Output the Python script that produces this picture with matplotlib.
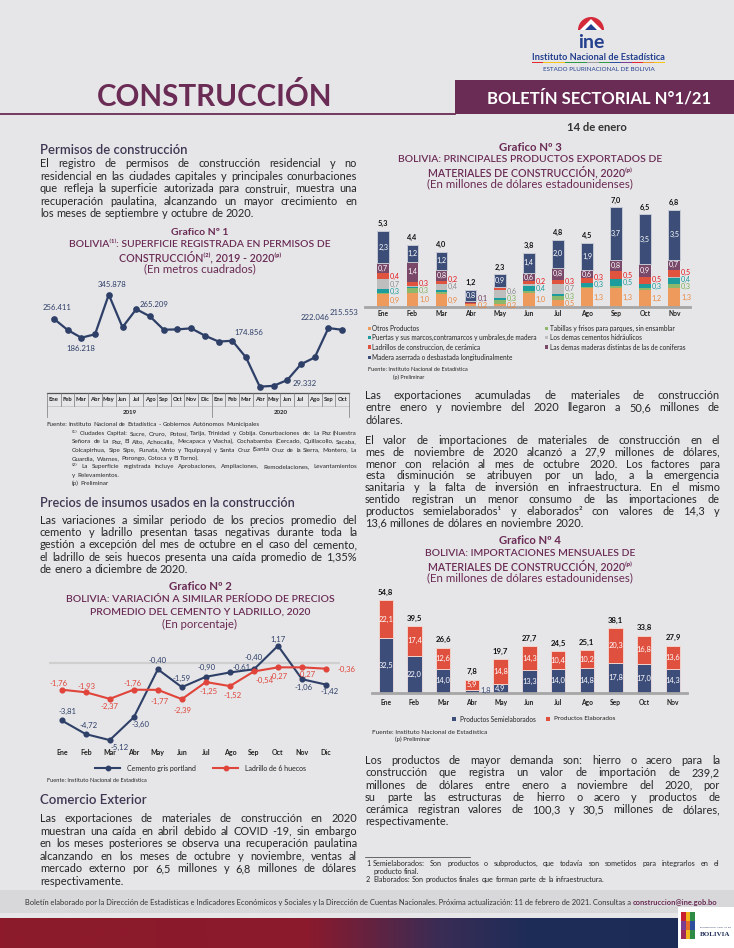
#!/usr/bin/python3
'''
Boletin sectorial de construccion N 1/21 (INE Bolivia), one page.
Four charts and the text blocks, drawn on a pixel-sized page axes.
Output: out.png (734 x 948 px)
'''
import numpy as np
import matplotlib
matplotlib.use('Agg')
from matplotlib import pyplot as plt
from matplotlib import font_manager
from matplotlib.patches import Rectangle, Wedge, Polygon
from matplotlib.colors import LinearSegmentedColormap

#--------------------------------------------
# Data
meses = ['Ene', 'Feb', 'Mar', 'Abr', 'May', 'Jun', 'Jul', 'Ago', 'Sep', 'Oct', 'Nov', 'Dic']

# Grafico 1: superficie registrada (m2)
superficie_2019 = [256411, 215000, 186218, 199000, 345878, 225000, 292000, 265209, 216000, 217000, 221000, 194000]
superficie_2020 = [172000, 174856, 113000, 5000, 8000, 29332, 88000, 113000, 222046, 215553]
superficie_etiquetadas = [0, 2, 4, 7, 13, 17, 20, 21]

# Grafico 2: variacion de precios (%)
cemento = [-3.81, -4.72, -5.12, -3.60, -0.40, -1.59, -0.90, -0.61, -0.40, 1.17, -1.06, -1.42]
ladrillo = [-1.76, -1.93, -2.37, -1.76, -1.77, -2.39, -1.25, -1.52, -0.54, -0.27, -0.27, -0.36]

# Grafico 3: exportaciones (millones $us), Ene - Nov 2020
meses_2020 = meses[:11]
exp_otros = [0.9, 1.0, 0.94, 0.2, 0.2, 1.0, 0.5, 1.3, 1.3, 1.2, 1.3]
exp_tablillas = [0.05, 0.3, 0.14, 0.03, 0.3, 0.1, 0.3, 0.1, 0.14, 0.1, 0.3]
exp_puertas = [0.3, 0.08, 0.14, 0.0, 0.1, 0.4, 0.12, 0.3, 0.5, 0.3, 0.4]
exp_cementos = [0.7, 0.08, 0.42, 0.0, 0.6, 0.1, 0.7, 0.0, 0.05, 0.0, 0.1]
exp_ladrillos = [0.4, 0.3, 0.21, 0.02, 0.1, 0.2, 0.3, 0.3, 0.5, 0.5, 0.5]
exp_maderas = [0.7, 1.4, 0.77, 0.15, 0.1, 0.6, 0.8, 0.6, 0.8, 0.9, 0.7]
exp_aserrada = [2.3, 1.2, 1.24, 0.8, 0.9, 1.4, 2.0, 1.9, 3.7, 3.5, 3.5]
exp_total = [5.3, 4.4, 4.0, 1.2, 2.3, 3.8, 4.8, 4.5, 7.0, 6.5, 6.8]
exp_nombres = ['Otros Productos',
               'Tabillas y frisos para parques, sin ensamblar',
               'Puertas y sus marcos,contramarcos y umbrales,de madera',
               'Los demas cementos hidráulicos',
               'Ladrillos de construccion, de cerámica',
               'Las demas maderas distintas de las de coniferas',
               'Madera aserrada o desbastada longitudinalmente']

# Grafico 4: importaciones (millones $us)
imp_semi = [32.5, 22.0, 14.0, 1.8, 4.9, 13.3, 14.0, 14.8, 17.8, 17.0, 14.3]
imp_elab = [22.1, 17.4, 12.6, 5.9, 14.8, 14.3, 10.4, 10.2, 20.3, 16.8, 13.6]
imp_total = [54.8, 39.5, 26.6, 7.8, 19.7, 27.7, 24.5, 25.1, 38.1, 33.8, 27.9]

#--------------------------------------------
# Style
BG = '#E6E6E8'
PURPLE = '#6A2B55'
HEAD = '#3F3652'
TXT = '#262626'
NAVY = '#2E3F68'
RED = '#E0443A'
C_EXP = ['#EE9A5C', '#8DB86B', '#1C9C9C', '#BEBEBE', '#E0533F', '#7A4868', '#3C4E78']
C_EXP_TXT = ['#E8873F', '#7DAE55', '#1A9A9A', '#8A8A8A', '#E3151B', '#6B3A5E', '#3C4E78']
C_IMP = ['#3D4D7A', '#E0503F']

names = {f.name for f in font_manager.fontManager.ttflist}
BODY = 'Lato' if 'Lato' in names else 'DejaVu Sans'
NARROW = 'Liberation Sans Narrow' if 'Liberation Sans Narrow' in names else BODY
plt.rcParams['font.family'] = [BODY, 'DejaVu Sans']
FB = [BODY, 'DejaVu Sans']
FN = [NARROW, 'DejaVu Sans']
SUPERS = '⁽⁾ᵖ'

W, H = 734, 948
fig = plt.figure(figsize=(W / 100, H / 100), dpi=100)
fig.patch.set_facecolor(BG)
page = fig.add_axes([0, 0, 1, 1])
page.set_xlim(0, W)
page.set_ylim(H, 0)
page.axis('off')
R = fig.canvas.get_renderer()


def text_w(t):
    return t.get_window_extent(renderer=R).width


def fit_text(x, y, s, width, size, ha='left', **kw):
    # text whose width matches the reference, never above size
    t = page.text(x, y, s, fontsize=size, ha=ha, va='center', **kw)
    w = text_w(t)
    t.set_fontsize(min(size, size * width / w))
    return t


def px_axes(x0, y0, x1, y1):
    ax = fig.add_axes([x0 / W, 1 - y1 / H, (x1 - x0) / W, (y1 - y0) / H])
    ax.patch.set_alpha(0)
    return ax


def need_size(lines, width, size, family):
    widest = 0
    for l in lines:
        t = page.text(0, 0, l, fontsize=size, family=family)
        widest = max(widest, text_w(t))
        t.remove()
    return min(size, size * width / widest * 0.97)


def paragraph(lines, x0, x1, y0, dy, size, color=TXT, family=BODY):
    # one text per word, justified, on a common baseline
    lift = 0.36 * size * 100 / 72
    t = page.text(0, 0, 'a a', fontsize=size, family=family)
    space = text_w(t)
    t.set_text('aa')
    space -= text_w(t)
    t.remove()
    for i, line in enumerate(lines):
        y = y0 + i * dy + lift
        words = line.split()
        ts = []
        for w in words:
            fam = ['DejaVu Sans'] if any(c in SUPERS for c in w) else family
            ts.append(page.text(x0, y, w, fontsize=size, color=color, family=fam, va='baseline'))
        ws = [text_w(t) for t in ts]
        gap = space
        if i < len(lines) - 1 and len(words) > 1:
            gap = (x1 - x0 - sum(ws)) / (len(words) - 1)
        x = x0
        for t, w in zip(ts, ws):
            t.set_x(x)
            x += w + gap


def chart_title(cx, y0, lines, widths):
    weights = ['bold', 'semibold', 'semibold', 'normal']
    for k, (s, w) in enumerate(zip(lines, widths)):
        fit_text(cx, y0 + k * 12.4, s, w, 9.5, ha='center', color=PURPLE,
                 fontweight=weights[k], family=FN)


def style_x(ax, labels, size, pad):
    ax.set_xticks(range(len(labels)))
    ax.set_xticklabels(labels, fontsize=size, fontweight='bold', family=FN, color='#222222')
    ax.tick_params(axis='x', length=0, pad=pad)
    ax.set_yticks([])
    for s in ax.spines.values():
        s.set_visible(False)


coma = lambda v, d=1: f'{v:.{d}f}'.replace('.', ',')

#--------------------------------------------
# Header
page.add_patch(Rectangle((455, 80), W - 455, 34, color=PURPLE, lw=0))
page.plot([0, 455], [114, 114], color=PURPLE, lw=1.3)
fit_text(215, 96, 'CONSTRUCCIÓN', 236, 24, ha='center', color=PURPLE, fontweight='bold', family=FB)
fit_text(599, 98, 'BOLETÍN SECTORIAL N°1/21', 224, 12, ha='center', color='white', fontweight='bold', family=FB)
fit_text(597, 127, '14 de enero', 60, 9, ha='center', color='#333333', fontweight='bold', family=FB)
# INE logo
page.add_patch(Wedge((591, 30), 13, 180, 360, color='#D42A3A', lw=0))
page.add_patch(Polygon([(580, 30), (591, 19), (602, 30)], color='white', lw=0))
page.add_patch(Polygon([(585, 30), (591, 24), (597, 30)], color='#24408E', lw=0))
fit_text(591, 42, 'ine', 30, 14, ha='center', color='#24408E', fontweight='bold', family=FB)
fit_text(598.5, 57, 'Instituto Nacional de Estadística', 133, 8, ha='center', color='#24408E',
         fontweight='bold', family=FN)
stripe = ['#E3262F', '#F6C417', '#F6C417', '#2E9A48', '#2E9A48', '#9C9C9C', '#2E9A48', '#2E4E9E',
          '#7A3D91', '#E3262F', '#F0962A', '#F6C417']
for k, c in enumerate(stripe):
    page.add_patch(Rectangle((532 + k * 133 / len(stripe), 61.5), 133 / len(stripe), 1.8, color=c, lw=0))
fit_text(598.5, 69, 'ESTADO PLURINACIONAL DE BOLIVIA', 128, 4.5, ha='center', color='#24408E', family=FB)

#--------------------------------------------
# Body text (one size for every paragraph)
p1 = ['El registro de permisos de construcción residencial y no',
      'residencial en las ciudades capitales y principales conurbaciones',
      'que refleja la superficie autorizada para construir, muestra  una',
      'recuperación paulatina, alcanzando un mayor crecimiento en',
      'los meses de septiembre y octubre de 2020.']
p2 = ['Las variaciones a similar periodo de los precios promedio del',
      'cemento y ladrillo presentan tasas negativas durante toda la',
      'gestión a excepción del mes de octubre en el caso del cemento,',
      'el ladrillo de seis huecos  presenta una caída promedio de 1,35%',
      'de enero a diciembre de 2020.']
p3 = ['Las exportaciones de materiales de construcción en 2020',
      'muestran una caída en abril debido al COVID -19,  sin embargo',
      'en los meses posteriores se observa una recuperación paulatina',
      'alcanzando en los meses de octubre y noviembre, ventas al',
      'mercado externo por 6,5 millones y 6,8 millones de dólares',
      'respectivamente.']
pa = ['Las exportaciones acumuladas de materiales de construcción',
      'entre enero y noviembre del 2020 llegaron a 50,6 millones de',
      'dólares.']
pb = ['El valor de importaciones de materiales de construcción en el',
      'mes de noviembre de 2020 alcanzó a 27,9 millones de dólares,',
      'menor con relación al mes de octubre 2020. Los factores para',
      'esta disminución se atribuyen por un lado, a la emergencia',
      'sanitaria y la falta de inversión en infraestructura. En el mismo',
      'sentido registran un menor consumo de las importaciones de',
      'productos semielaborados¹ y elaborados² con valores de 14,3 y',
      '13,6 millones de dólares en noviembre 2020.']
pc = ['Los productos de mayor demanda son: hierro o acero para la',
      'construcción que registra un valor de importación de 239,2',
      'millones de dólares entre enero a noviembre del 2020, por',
      'su parte las estructuras de hierro o acero y productos de',
      'cerámica registran valores de 100,3 y 30,5 millones de dólares,',
      'respectivamente.']
size = min(need_size(p, 317, 8.6, BODY) for p in (p1, p2, p3))
size = min(size, min(need_size(p, 355, 8.6, BODY) for p in (pa, pb, pc)))
paragraph(p1, 40, 357, 163, 12.6, size)
paragraph(p2, 40, 357, 520, 12.2, size)
paragraph(p3, 40, 357, 818, 12.6, size)
paragraph(pa, 365, 720, 395, 12.4, size)
paragraph(pb, 365, 720, 440, 11.8, size)
paragraph(pc, 365, 720, 760, 12.3, size)

fit_text(40, 150, 'Permisos de construcción', 147, 11, color=HEAD, fontweight='semibold', family=FB)
fit_text(40, 503, 'Precios de insumos usados en la construcción', 252, 11, color=HEAD,
         fontweight='semibold', family=FB)
fit_text(40, 800, 'Comercio Exterior', 107, 11, color=HEAD, fontweight='semibold', family=FB)

#--------------------------------------------
# Grafico 1
chart_title(200, 232, ['Grafico Nº 1', 'BOLIVIA⁽¹⁾: SUPERFICIE REGISTRADA EN PERMISOS DE',
                       'CONSTRUCCIÓN⁽²⁾, 2019 - 2020⁽ᵖ⁾', '(En metros cuadrados)'], [58, 265, 163, 112])
sup = superficie_2019 + superficie_2020
etiquetas1 = meses + meses[:10]
ax1 = px_axes(47, 270, 349, 393)
ax1.plot(range(len(sup)), sup, color=NAVY, lw=1.6, marker='o', ms=3.8, zorder=3)
ax1.set_xlim(-0.5, len(sup) - 0.5)
ax1.set_ylim(-18500, 437000)
style_x(ax1, etiquetas1, 4.2, 3.2)
off1 = {0: (3, -11), 2: (0, 10.5), 4: (3, -10.5), 7: (4, -12), 13: (17, -8), 17: (17, 3),
        20: (-13, -11), 21: (2, -17)}
for i in superficie_etiquetadas:
    dx, dy = off1[i]
    ax1.annotate(f'{sup[i]:,}'.replace(',', '.'), (i, sup[i]), xytext=(dx, -dy), textcoords='offset pixels',
                 ha='center', va='center', fontsize=5.6, color=NAVY, family=FB)
# two level table under the axis
xb = [ax1.transData.transform((i - 0.5, 0))[0] for i in range(len(sup) + 1)]
page.plot([xb[0], xb[-1]], [393, 393], color='#555555', lw=0.9)
page.plot([xb[0], xb[-1]], [405.5, 405.5], color='#BBBBBB', lw=0.5)
for i, xv in enumerate(xb):
    full = i in (0, 12, len(sup))
    page.plot([xv, xv], [393, 417 if full else 405.5], color='#777777', lw=0.5)
for s, a, b in (('2019', 0, 12), ('2020', 12, len(sup))):
    page.text((xb[a] + xb[b]) / 2, 412, s, fontsize=4.4, fontweight='bold', ha='center', va='center',
              family=FN, color='#222222')

notas1 = ['⁽¹⁾ Ciudades Capital: Sucre, Oruro, Potosí, Tarija, Trinidad y Cobija. Conurbaciones de: La Paz (Nuestra',
          'Señora de La Paz, El Alto, Achocalla, Mecapaca y Viacha), Cochabamba (Cercado, Quillacollo, Sacaba,',
          'Colcapirhua, Sipe Sipe, Punata, Vinto y Tiquipaya) y Santa Cruz (Santa Cruz de la Sierra, Montero, La',
          'Guardia, Warnes, Porongo, Cotoca y El Torno).']
notas2 = ['⁽²⁾ La Superficie registrada incluye Aprobaciones, Ampliaciones, Remodelaciones, Levantamientos',
          'y Relevamientos.']
nsize = need_size(notas1 + notas2, 285, 5.2, FN)
paragraph(['Fuente: Instituto Nacional de Estadística  - Gobiernos Autónomos Municipales'], 46, 357, 424,
          8.4, nsize, family=NARROW)
paragraph(notas1, 72, 357, 432.5, 8.4, nsize, family=NARROW)
paragraph(notas2, 72, 357, 466, 8.4, nsize, family=NARROW)
paragraph(['(p) Preliminar'], 72, 357, 483, 8.4, nsize, family=NARROW)

#--------------------------------------------
# Grafico 2
chart_title(200, 587, ['Grafico Nº 2', 'BOLIVIA: VARIACIÓN A SIMILAR PERÍODO DE PRECIOS',
                       'PROMEDIO DEL CEMENTO Y LADRILLO, 2020', '(En porcentaje)'], [63, 269, 223, 75])
ax2 = px_axes(49, 635, 340, 745)
ax2.axhline(0, color='#CFCFCF', lw=1.6, zorder=1)
ax2.plot(range(12), cemento, color=NAVY, lw=1.5, marker='o', ms=3.4, zorder=3)
ax2.plot(range(12), ladrillo, color=RED, lw=1.5, marker='o', ms=3.4, zorder=3)
ax2.set_xlim(-0.528, 11.58)
ax2.set_ylim(-5.447, 1.887)
style_x(ax2, meses, 5.0, 3.0)
off_c = [(6, -9), (3, -9), (10, 7), (7, 7), (0, -9), (0, -9), (1, -9), (12, -5), (0, -12), (0, -6), (2, 8), (4, 7)]
off_l = [(-3, -6), (1, -6), (0, 8), (-1, -6), (2, 12), (1, 11), (3, 9), (3, 9), (11, 9), (1, 9), (5, 7), (20, 1)]
for serie, offs, col in ((cemento, off_c, NAVY), (ladrillo, off_l, RED)):
    for i, v in enumerate(serie):
        ax2.annotate(coma(v, 2), (i, v), xytext=(offs[i][0], -offs[i][1]), textcoords='offset pixels',
                     ha='center', va='center', fontsize=5.6, color=col, family=FB)
for x0, col, s, w in ((95, NAVY, 'Cemento gris portland', 69), (213, RED, 'Ladrillo de 6 huecos', 62)):
    page.plot([x0, x0 + 25], [768.3, 768.3], color=col, lw=1.5)
    page.plot([x0 + 12.5], [768.3], 'o', color=col, ms=3.2)
    fit_text(x0 + 32, 768.3, s, w, 6, color='#222222', family=FN)
fit_text(47, 781, 'Fuente: Instituto Nacional de Estadística', 100, 5, color=TXT, family=FN)

#--------------------------------------------
# Grafico 3
chart_title(530, 147, ['Grafico Nº 3', 'BOLIVIA: PRINCIPALES PRODUCTOS EXPORTADOS DE',
                       'MATERIALES DE CONSTRUCCIÓN, 2020⁽ᵖ⁾', '(En millones de dólares estadounidenses)'],
            [63, 267, 205, 208])
ax3 = px_axes(365, 195, 690, 307)
series3 = [exp_otros, exp_tablillas, exp_puertas, exp_cementos, exp_ladrillos, exp_maderas, exp_aserrada]
x3 = np.arange(len(meses_2020))
base = np.zeros(len(x3))
centros = []
for k, vals in enumerate(series3):
    ax3.bar(x3, vals, 0.40, bottom=base, color=C_EXP[k],
            edgecolor='#C5C9D4' if k == 6 else 'none', lw=0.7 if k == 6 else 0)
    centros.append(base + np.array(vals) / 2)
    base = base + np.array(vals)
ax3.set_xlim(-0.629, 10.54)
ax3.set_ylim(0, 7.84)
style_x(ax3, meses_2020, 4.8, 2.2)
ax3.spines['bottom'].set_visible(True)
ax3.spines['bottom'].set_color('#A6A6A6')
ax3.spines['bottom'].set_linewidth(2)
for i in x3:
    prev = -1
    for k, vals in enumerate(series3):
        v = vals[i]
        if k >= 5 and v >= 0.5:
            ax3.text(i, centros[k][i], coma(v), ha='center', va='center', fontsize=5.2, color='white', family=FB)
        elif v >= 0.15:
            y = max(centros[k][i], prev + 0.5)
            prev = y
            ax3.text(i + 0.23, y, coma(v), ha='left', va='center', fontsize=5.2, color=C_EXP_TXT[k], family=FB)
    ax3.annotate(coma(exp_total[i]), (i, base[i]), xytext=(0, 7), textcoords='offset pixels', ha='center',
                 va='center', fontsize=5.3, fontweight='bold', color='#111111', family=FB)
# legend, two columns
filas = [(0, 368, 328.3), (1, 545, 328.3), (2, 368, 337.7), (3, 545, 337.7), (4, 368, 347), (5, 545, 347),
         (6, 368, 357.7)]
t = page.text(0, 0, exp_nombres[2], fontsize=6, family=FN)
lsize = 6 * 166 / text_w(t)
t.remove()
for k, xl, yl in filas:
    page.add_patch(Rectangle((xl, yl - 1.8), 3.4, 3.4, color=C_EXP[k], lw=0))
    page.text(xl + 4.5, yl, exp_nombres[k], fontsize=lsize, family=FN, va='center', color='#222222')
fit_text(368, 369.5, 'Fuente: Instituto Nacional de Estadística', 100, 5, color=TXT, family=FN)
fit_text(393, 377, '(p) Preliminar', 32, 5, color=TXT, family=FN)

#--------------------------------------------
# Grafico 4
chart_title(530, 541, ['Grafico Nº 4', 'BOLIVIA: IMPORTACIONES MENSUALES DE',
                       'MATERIALES DE CONSTRUCCIÓN, 2020⁽ᵖ⁾', '(En millones de dólares estadounidenses)'],
            [63, 212, 206, 207])
ax4 = px_axes(372, 590, 687, 692.7)
x4 = np.arange(len(meses_2020))
ax4.bar(x4, imp_semi, 0.5, color=C_IMP[0], edgecolor='#E3D6DA', lw=0.7)
ax4.bar(x4, imp_elab, 0.5, bottom=imp_semi, color=C_IMP[1], edgecolor='#F1D2CB', lw=0.7)
ax4.set_xlim(-0.477, 10.487)
ax4.set_ylim(0, 60.8)
style_x(ax4, meses_2020, 4.8, 4.6)
ax4.spines['bottom'].set_visible(True)
ax4.spines['bottom'].set_color('#A6A6A6')
ax4.spines['bottom'].set_linewidth(2)
for i in x4:
    s, e = imp_semi[i], imp_elab[i]
    if s < 3:
        ax4.text(i + 0.3, s / 2 + 0.4, coma(s), ha='left', va='center', fontsize=5.4, color=C_IMP[0], family=FB)
    else:
        ax4.text(i, s / 2, coma(s), ha='center', va='center', fontsize=5.4, color='white', family=FB)
    ax4.text(i, s + e / 2, coma(e), ha='center', va='center', fontsize=5.4, color='white', family=FB)
    ax4.annotate(coma(imp_total[i]), (i, s + e), xytext=(0, 8), textcoords='offset pixels', ha='center',
                 va='center', fontsize=5.6, fontweight='bold', color='#111111', family=FB)
for x0, col, s, w in ((452, C_IMP[0], 'Productos Semielaborados', 77), (546, C_IMP[1], 'Productos Elaborados', 62)):
    page.add_patch(Rectangle((x0, 717), 4, 4, color=col, lw=0))
    fit_text(x0 + 8, 719, s, w, 6, color='#222222', family=FN)
fit_text(372, 732.3, 'Fuente: Instituto Nacional de Estadística', 115, 5.5, color=TXT, family=FN)
fit_text(395, 739.5, '(p) Preliminar', 36, 5.5, color=TXT, family=FN)

#--------------------------------------------
# Footnotes of the right column
page.plot([365, 470], [857, 857], color='#333333', lw=0.5)
fs = need_size(['Semielaborados: Son productos o subproductos, que todavía son sometidos para integrarlos en el'],
               346, 5.2, NARROW)
for y, s in ((863.5, '1'), (879, '2')):
    page.text(366, y, s, fontsize=fs, family=NARROW, va='center', color=TXT)
paragraph(['Semielaborados: Son productos o subproductos, que todavía son sometidos para integrarlos en el',
           'producto final.'], 373, 719, 863.5, 7.5, fs, family=NARROW)
paragraph(['Elaborados: Son productos finales que forman parte de la infraestructura.'], 373, 719, 879, 7.5, fs,
          family=NARROW)

#--------------------------------------------
# Footer
page.add_patch(Rectangle((0, 890), W, 23, color='#D8D8DA', lw=0))
pie = ('Boletín elaborado por la Dirección de Estadísticas e Indicadores Económicos y Sociales y la Dirección '
       'de Cuentas Nacionales. Próxima actualización: 11 de febrero de 2021. Consultas a ')
t = fit_text(25, 902, pie, 612, 6, color='#333333', family=FN)
page.text(25 + text_w(t), 902, 'construccion@ine.gob.bo', fontsize=t.get_fontsize(), fontweight='bold',
          color=PURPLE, family=FN, va='center')
band = LinearSegmentedColormap.from_list('band', [(0, '#8C1A2A'), (0.42, '#8A1A2D'), (0.6, '#3A2C55'),
                                                  (0.72, '#1E2D58'), (1, '#1B2B55')])
page.imshow(np.linspace(0, 1, 400)[None, :], cmap=band, extent=(0, W, H, 918), aspect='auto', zorder=1)
page.add_patch(Rectangle((678, 907), 56, 41, color='white', lw=0, zorder=2))
emblema = ['#C8202F', '#F2B51C', '#2E8B45', '#7A3D91', '#E36A2A', '#2E4E9E', '#9C2A5A', '#F2B51C', '#2E8B45']
for k, c in enumerate(emblema):
    page.add_patch(Rectangle((681 + (k % 3) * 4.5, 912 + (k // 3) * 9), 4.5, 9, color=c, lw=0, zorder=3))
t = fit_text(715, 927, 'ESTADO PLURINACIONAL DE', 30, 3, ha='center', color='#1E2D58', zorder=3)
t = fit_text(715, 935, 'BOLIVIA', 30, 8, ha='center', fontweight='bold', color='#1E2D58',
             family=['Liberation Serif', 'DejaVu Serif'], zorder=3)
page.set_xlim(0, W)
page.set_ylim(H, 0)

fig.savefig('out.png', dpi=100, facecolor=BG)
